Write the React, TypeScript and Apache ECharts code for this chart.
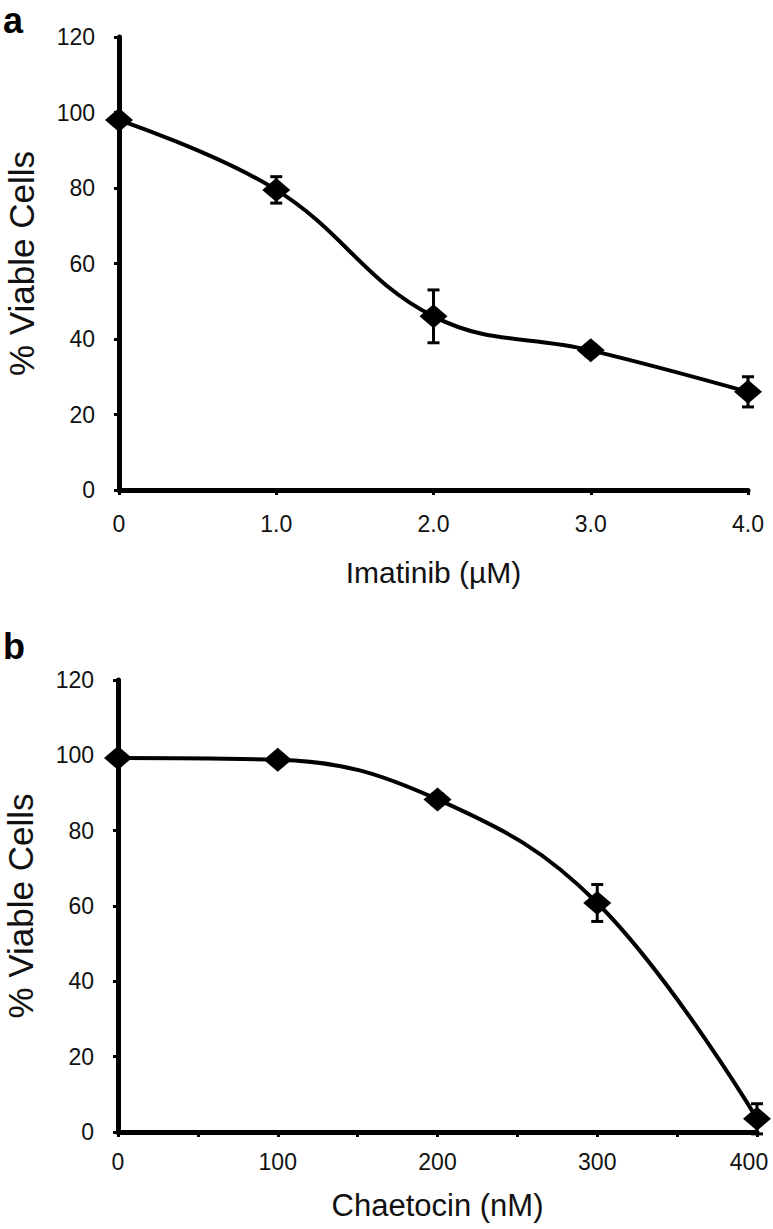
import React, { useEffect, useRef } from "react";
import * as echarts from "echarts";

const imatinibDose = [0, 1, 2, 3, 4];
const imatinibViable = [98, 79.5, 46, 37, 26];
const imatinibErr = [1, 3.5, 7, 1.5, 4];

const chaetocinDose = [0, 100, 200, 300, 400];
const chaetocinViable = [99.3, 98.8, 88.3, 60.8, 3.5];
const chaetocinErr = [0.5, 1, 1.5, 4.9, 4];

const yTitle = "% Viable Cells";
const xTitleA = "Imatinib (µM)";
const xTitleB = "Chaetocin (nM)";

const FONT = "Liberation Sans, Arial, sans-serif";

function errorRender(params: any, api: any) {
  const x = api.value(0);
  const y = api.value(1);
  const e = api.value(2);
  const top = api.coord([x, y + e]);
  const bot = api.coord([x, y - e]);
  const hw = 6;
  const st = { stroke: "#000", lineWidth: 3 };
  return {
    type: "group",
    children: [
      { type: "line", shape: { x1: top[0], y1: top[1], x2: bot[0], y2: bot[1] }, style: st },
      { type: "line", shape: { x1: top[0] - hw, y1: top[1], x2: top[0] + hw, y2: top[1] }, style: st },
      { type: "line", shape: { x1: bot[0] - hw, y1: bot[1], x2: bot[0] + hw, y2: bot[1] }, style: st },
    ],
  };
}

export default function App() {
  const ref = useRef<HTMLDivElement>(null);
  useEffect(() => {
    if (!ref.current) return;
    const chart = echarts.init(ref.current, undefined, { renderer: "svg" });
    const axisLine = { show: true, lineStyle: { color: "#000", width: 5 } };
    const axisTick = { show: true, inside: false, length: 5, lineStyle: { color: "#000", width: 3 } };
    const yAxisCommon = (gridIndex: number, gap: number) => ({
      type: "value",
      gridIndex,
      min: 0,
      max: 120,
      interval: 20,
      splitLine: { show: false },
      axisLine,
      axisTick,
      axisLabel: { color: "#111", fontSize: 23, fontFamily: FONT, margin: 24 },
      name: yTitle,
      nameLocation: "middle",
      nameRotate: 90,
      nameGap: gap,
      nameTextStyle: { color: "#111", fontSize: 35, fontFamily: FONT },
    });
    const option: any = {
      animation: false,
      backgroundColor: "#fff",
      grid: [
        { left: 119, top: 37, width: 629, height: 453, outerBoundsMode: "none", containLabel: false },
        { left: 118, top: 680, width: 639, height: 452, outerBoundsMode: "none", containLabel: false },
      ],
      xAxis: [
        {
          type: "value",
          gridIndex: 0,
          min: 0,
          max: 4,
          interval: 1,
          splitLine: { show: false },
          axisLine,
          axisTick,
          axisLabel: {
            color: "#111",
            fontSize: 23,
            fontFamily: FONT,
            margin: 22,
            formatter: (v: number) => (v === 0 ? "0" : v.toFixed(1)),
          },
          name: xTitleA,
          nameLocation: "middle",
          nameGap: 67,
          nameTextStyle: { color: "#111", fontSize: 30, fontFamily: FONT },
        },
        {
          type: "value",
          gridIndex: 1,
          min: 0,
          max: 400,
          interval: 50,
          splitLine: { show: false },
          axisLine,
          axisTick,
          axisLabel: {
            color: "#111",
            fontSize: 23,
            fontFamily: FONT,
            margin: 18,
            formatter: (v: number) =>
              v % 100 !== 0 ? "" : v === 400 ? "{last|" + v + "}" : String(v),
            rich: {
              last: { color: "#111", fontSize: 23, fontFamily: FONT, padding: [0, 16, 0, 0] },
            },
          },
          name: xTitleB,
          nameLocation: "middle",
          nameGap: 58,
          nameTextStyle: { color: "#111", fontSize: 31, fontFamily: FONT },
        },
      ],
      yAxis: [yAxisCommon(0, 80), yAxisCommon(1, 80)],
      graphic: [
        { type: "text", left: 3, top: 2, style: { text: "a", fontSize: 36, fontWeight: "bold", fontFamily: FONT, fill: "#000" } },
        { type: "text", left: 3, top: 628, style: { text: "b", fontSize: 36, fontWeight: "bold", fontFamily: FONT, fill: "#000" } },
      ],
      series: [
        {
          type: "custom",
          xAxisIndex: 0,
          yAxisIndex: 0,
          renderItem: errorRender,
          encode: { x: 0, y: 1 },
          data: imatinibDose.map((d, i) => [d, imatinibViable[i], imatinibErr[i]]),
          z: 3,
        },
        {
          type: "line",
          xAxisIndex: 0,
          yAxisIndex: 0,
          smooth: 0.4,
          symbol: "diamond",
          symbolSize: [28, 24],
          lineStyle: { color: "#000", width: 4 },
          itemStyle: { color: "#000" },
          data: imatinibDose.map((d, i) => [d, imatinibViable[i]]),
          z: 4,
        },
        {
          type: "custom",
          xAxisIndex: 1,
          yAxisIndex: 1,
          renderItem: errorRender,
          encode: { x: 0, y: 1 },
          data: chaetocinDose.map((d, i) => [d, chaetocinViable[i], chaetocinErr[i]]),
          z: 3,
        },
        {
          type: "line",
          xAxisIndex: 1,
          yAxisIndex: 1,
          smooth: 0.4,
          symbol: "diamond",
          symbolSize: [28, 24],
          lineStyle: { color: "#000", width: 4 },
          itemStyle: { color: "#000" },
          data: chaetocinDose.map((d, i) => [d, chaetocinViable[i]]),
          z: 4,
        },
      ],
    };
    chart.setOption(option);
    return () => chart.dispose();
  }, []);
  return (
    <div
      ref={ref}
      style={{ position: "absolute", left: 0, top: 0, width: 773, height: 1229, background: "#fff" }}
    />
  );
}
